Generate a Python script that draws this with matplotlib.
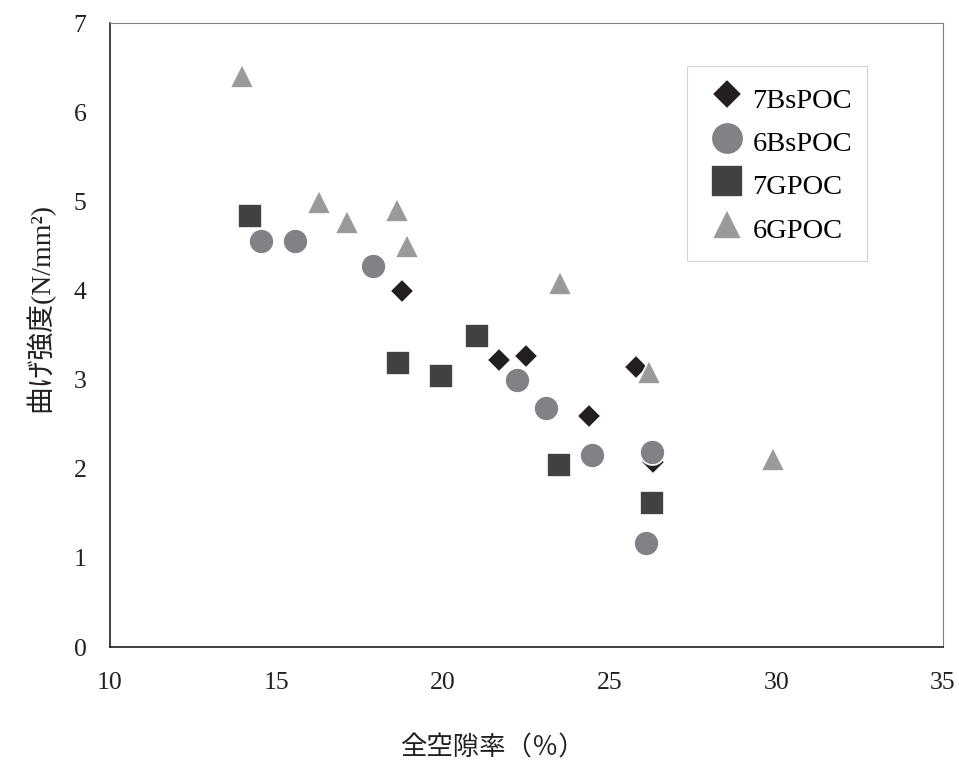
import matplotlib.pyplot as plt

# data
bs7_x = [18.77, 21.66, 22.47, 24.37, 25.78, 26.3]
bs7_y = [3.99, 3.22, 3.27, 2.59, 3.14, 2.07]

bs6_x = [14.52, 15.54, 17.89, 22.2, 23.1, 24.46, 26.27, 26.08]
bs6_y = [4.55, 4.55, 4.27, 3.0, 2.68, 2.15, 2.19, 1.17]

g7_x = [14.19, 18.64, 19.94, 21.02, 23.49, 26.27]
g7_y = [4.84, 3.19, 3.04, 3.49, 2.04, 1.61]

g6_x = [13.95, 16.27, 17.11, 18.61, 18.92, 23.5, 26.18, 29.9]
g6_y = [6.4, 4.99, 4.77, 4.9, 4.5, 4.08, 3.08, 2.11]

plt.rcParams['font.family'] = ['Liberation Serif', 'Noto Sans CJK JP']

fig = plt.figure(figsize=(9.59, 7.6), dpi=100)
ax = fig.add_axes([110 / 959, 1 - 647 / 760, 833 / 959, 624 / 760])

ax.plot(bs7_x, bs7_y, 'D', ms=12, color='#231f20', mec='white', mew=1.2,
        label='7BsPOC', zorder=3)
ax.plot(bs6_x, bs6_y, 'o', ms=18, color='#808285', mec='white', mew=1.2,
        label='6BsPOC', zorder=4)
ax.plot(g7_x, g7_y, 's', ms=17.5, color='#414042', mec='white', mew=1.2,
        label='7GPOC', zorder=5)
ax.plot(g6_x, g6_y, '^', ms=17, color='#999a9c', mec='white', mew=1.2,
        label='6GPOC', zorder=6)

ax.set_xlim(10, 35)
ax.set_ylim(0, 7)
ax.set_xticks([10, 15, 20, 25, 30, 35])
ax.set_yticks(range(8))
ax.tick_params(length=0, labelsize=18.5, colors='#231f20')
ax.tick_params(axis='x', pad=18)
ax.tick_params(axis='y', pad=17)

for s in ['left', 'bottom']:
    ax.spines[s].set_color('#231f20')
    ax.spines[s].set_linewidth(1.2)
for s in ['top', 'right']:
    ax.spines[s].set_color('#808080')
    ax.spines[s].set_linewidth(0.8)

ax.set_xlabel('全空隙率（％）', fontsize=19, labelpad=30, color='#231f20',
              x=(492 - 110) / 833)
ax.set_ylabel('曲げ強度(N/mm²)', fontsize=20, labelpad=14, color='#231f20',
              y=(647 - 307) / 624)

leg = ax.legend(loc='upper left', bbox_to_anchor=(577 / 833, 1 - 43 / 624),
                borderaxespad=0, fontsize=20.5, frameon=True, fancybox=False,
                edgecolor='#c8c8c8', borderpad=0.53, labelspacing=0.3,
                handletextpad=0.02, handlelength=1.75, handleheight=1.5,
                markerscale=1.3, numpoints=1)
leg.get_frame().set_linewidth(0.8)

fig.savefig('out.png', dpi=100)
